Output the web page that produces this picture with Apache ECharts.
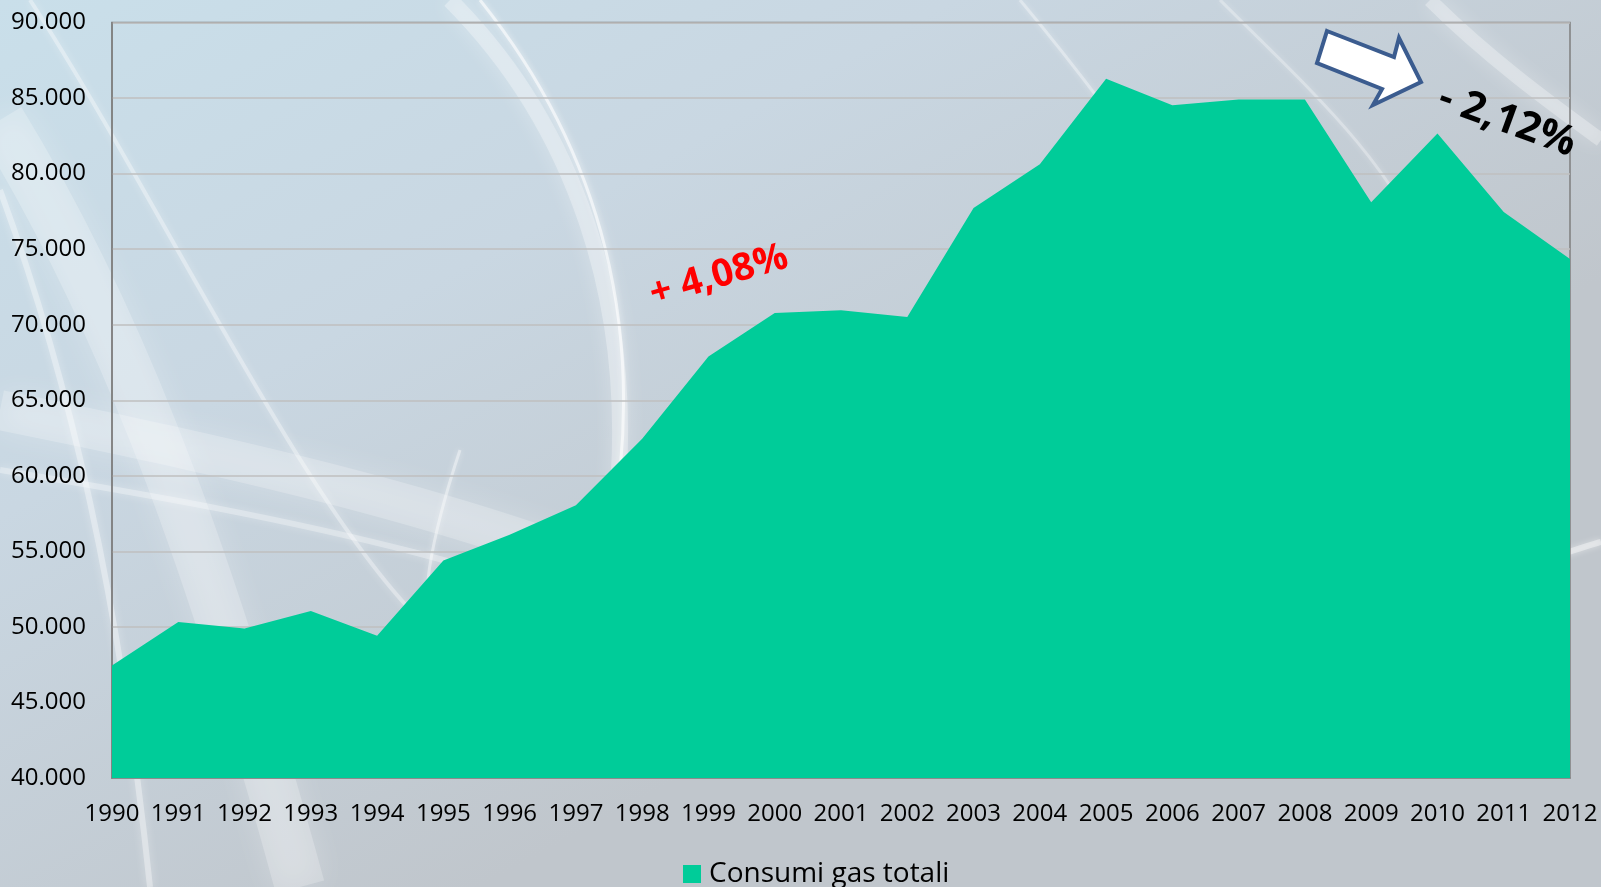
<!DOCTYPE html>
<html>
<head>
<meta charset="utf-8">
<script src="https://cdn.jsdelivr.net/npm/echarts@6/dist/echarts.min.js"></script>
<style>
html,body{margin:0;padding:0;width:1601px;height:887px;overflow:hidden;}
#c{width:1601px;height:887px;}
</style>
</head>
<body>
<div id="c"></div>
<script>
const years = ['1990','1991','1992','1993','1994','1995','1996','1997','1998','1999','2000','2001','2002','2003','2004','2005','2006','2007','2008','2009','2010','2011','2012'];
const consumi = [47440,50330,49890,51060,49420,54390,56100,58050,62450,67900,70770,70950,70510,77730,80620,86270,84520,84900,84900,78100,82650,77460,74350];
const seriesName = 'Consumi gas totali';
const noteUp = '+ 4,08%';
const noteDown = '- 2,12%';

const chart = echarts.init(document.getElementById('c'));
const deg = Math.PI / 180;
const F = '"Open Sans", "DejaVu Sans", sans-serif';

function swoosh(x1,y1,cx1,cy1,cx2,cy2,x2,y2,w,op,blur){
  return {type:'bezierCurve', z:-10, silent:true,
    shape:{x1:x1,y1:y1,cpx1:cx1,cpy1:cy1,cpx2:cx2,cpy2:cy2,x2:x2,y2:y2},
    style:{stroke:'#ffffff', lineWidth:w, opacity:op, fill:null, shadowBlur:blur||0, shadowColor:'#ffffff'}};
}

chart.setOption({
  backgroundColor: {
    type:'linear', x:0, y:0, x2:0.3, y2:1,
    colorStops:[{offset:0,color:'#c9dfea'},{offset:0.45,color:'#c9d7e2'},{offset:1,color:'#c0c6cc'}]
  },
  textStyle:{fontFamily:F},
  graphic:[
    swoosh(0,120,110,300,200,520,300,887,50,0.22,30),
    swoosh(0,190,70,380,120,600,150,887,6,0.35,10),
    swoosh(30,0,160,200,300,500,420,620,4,0.35,8),
    swoosh(450,0,570,120,640,300,615,520,16,0.3,20),
    swoosh(480,0,600,150,650,330,610,540,3,0.6,6),
    swoosh(0,410,200,450,480,510,680,600,40,0.22,30),
    swoosh(0,470,300,520,520,560,900,720,6,0.3,10),
    swoosh(460,450,430,540,420,600,425,680,3,0.4,6),
    swoosh(1020,0,1120,120,1220,260,1300,420,3,0.35,6),
    swoosh(1220,0,1310,90,1390,160,1430,260,3,0.3,6),
    swoosh(1430,0,1490,60,1560,110,1601,140,14,0.3,20),
    swoosh(1560,555,1575,550,1590,545,1601,542,6,0.4,6),
    {type:'polygon', z:100,
      shape:{points:[[1327,31],[1394,57],[1399,38],[1421,82],[1373,105],[1382,89],[1317,63]]},
      style:{fill:'#ffffff', stroke:'#3b5c8f', lineWidth:4, lineJoin:'miter'}},
    {type:'text', z:100, x:719, y:276, rotation:16*deg,
      style:{text:noteUp, x:0, y:0, align:'center', verticalAlign:'middle',
        font:'bold 38px '+F, fill:'#ff0000'}},
    {type:'text', z:100, x:1507, y:121, rotation:-20*deg,
      style:{text:noteDown, x:0, y:0, align:'center', verticalAlign:'middle',
        font:'bold 41px '+F, fill:'#000000'}}
  ],
  grid:{left:112, right:31, top:22.5, bottom:109, show:true, borderColor:'#7f7f7f', borderWidth:1.5, backgroundColor:'transparent'},
  legend:{
    data:[seriesName], top:855, left:678, icon:'rect', itemWidth:18, itemHeight:18,
    textStyle:{fontSize:28, color:'#000', fontFamily:F, padding:[0,0,0,3]}
  },
  xAxis:{
    type:'category', data:years, boundaryGap:false,
    axisLine:{show:true, lineStyle:{color:'#7f7f7f', width:1.5}},
    axisTick:{show:false},
    axisLabel:{color:'#000', fontSize:24, margin:24, fontFamily:F, interval:0},
    splitLine:{show:false}
  },
  yAxis:{
    type:'value', min:40000, max:90000, interval:5000,
    axisLine:{show:true, lineStyle:{color:'#7f7f7f', width:1.5}},
    axisTick:{show:false},
    axisLabel:{color:'#000', fontSize:24, margin:26, fontFamily:F,
      formatter: v => (v/1000) + '.000'},
    splitLine:{show:true, lineStyle:{color:'#bfbfbf', width:1.5}}
  },
  series:[{
    name:seriesName, type:'line', data:consumi, symbol:'none',
    color:'#00cc99',
    lineStyle:{width:0},
    areaStyle:{color:'#00cc99', opacity:1},
    animation:false
  }],
  animation:false
});
</script>
</body>
</html>
